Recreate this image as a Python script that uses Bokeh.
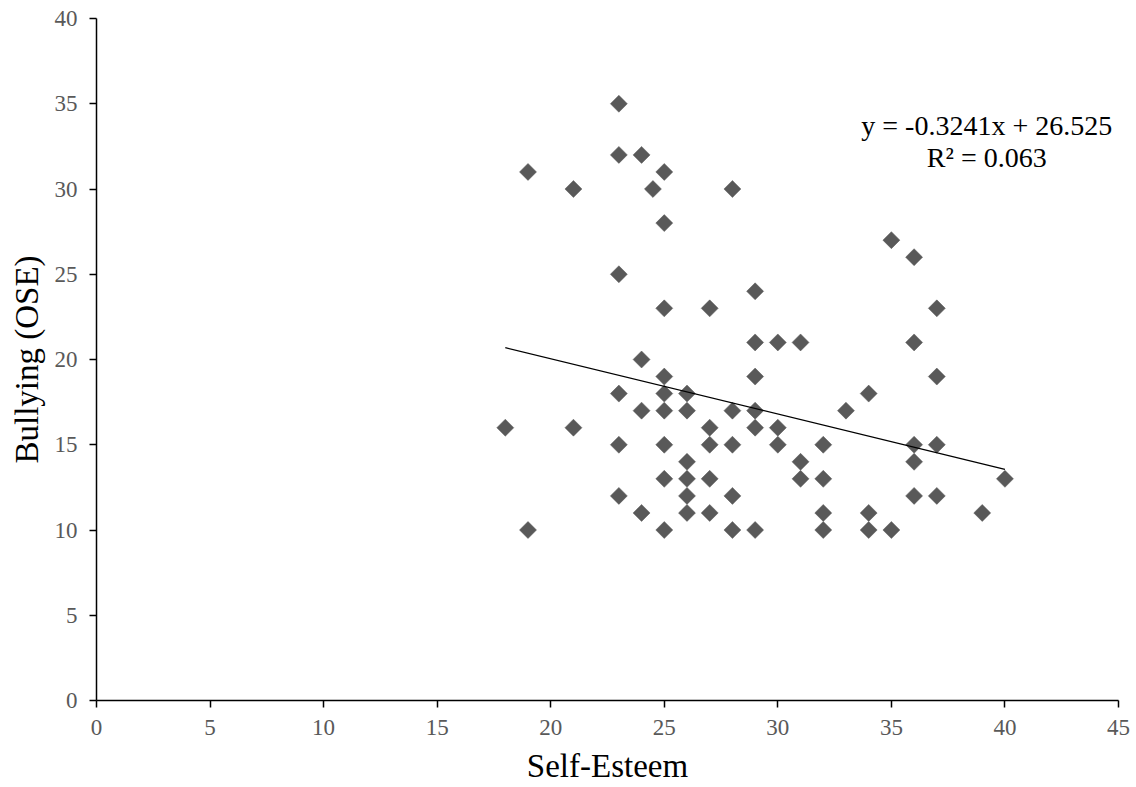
from bokeh.plotting import figure
from bokeh.models import ColumnDataSource, Label, FixedTicker
from bokeh.embed import file_html
from bokeh.resources import INLINE
import numpy as np

# Self-Esteem (x) vs Bullying (OSE) (y)
self_esteem = [18,
               19, 19,
               21, 21,
               23, 23, 23, 23, 23, 23,
               24, 24, 24, 24,
               24.5,
               25, 25, 25, 25, 25, 25, 25, 25, 25,
               26, 26, 26, 26, 26, 26,
               27, 27, 27, 27, 27,
               28, 28, 28, 28, 28,
               29, 29, 29, 29, 29, 29,
               30, 30, 30,
               31, 31, 31,
               32, 32, 32, 32,
               33,
               34, 34, 34,
               35, 35,
               36, 36, 36, 36, 36,
               37, 37, 37, 37,
               39,
               40]
bullying = [16,
            31, 10,
            30, 16,
            35, 32, 25, 18, 15, 12,
            32, 20, 17, 11,
            30,
            31, 28, 23, 19, 18, 17, 15, 13, 10,
            18, 17, 14, 13, 12, 11,
            23, 16, 15, 13, 11,
            30, 17, 15, 12, 10,
            24, 21, 19, 17, 16, 10,
            21, 16, 15,
            21, 14, 13,
            15, 13, 11, 10,
            17,
            18, 11, 10,
            27, 10,
            26, 21, 15, 14, 12,
            23, 19, 15, 12,
            11,
            13]

trend_slope = -0.3241
trend_intercept = 26.525
r_squared = 0.063

x_ticks = [0, 5, 10, 15, 20, 25, 30, 35, 40, 45]
y_ticks = [0, 5, 10, 15, 20, 25, 30, 35, 40]

FONT = "Liberation Serif"
GRAY = "#595959"

p = figure(width=1136, height=787, x_range=(0, 45), y_range=(0, 40),
           output_backend="svg", toolbar_location=None,
           min_border_left=96, min_border_right=18, min_border_top=18,
           min_border_bottom=87)
p.outline_line_color = None
p.xgrid.visible = False
p.ygrid.visible = False
p.background_fill_color = "white"
p.border_fill_color = "white"

src = ColumnDataSource(dict(x=self_esteem, y=bullying))
p.scatter("x", "y", source=src, marker="square", angle=np.pi / 4, size=12,
          fill_color=GRAY, line_color=GRAY, line_width=0.5)

tx = np.array([min(self_esteem), max(self_esteem)], dtype=float)
p.line(tx, trend_slope * tx + trend_intercept, line_color="black", line_width=1.3)

for ax, ticks in ((p.xaxis, x_ticks), (p.yaxis, y_ticks)):
    ax.ticker = FixedTicker(ticks=ticks)
    ax.axis_line_color = "black"
    ax.axis_line_width = 1.5
    ax.major_tick_line_color = "black"
    ax.major_tick_line_width = 1.5
    ax.major_tick_in = 0
    ax.major_tick_out = 7
    ax.minor_tick_line_color = None
    ax.major_label_text_font = FONT
    ax.major_label_text_font_size = "23px"
    ax.major_label_text_color = GRAY
    ax.axis_label_text_font = FONT
    ax.axis_label_text_font_style = "normal"
    ax.axis_label_text_color = "black"
    ax.axis_label_text_font_size = "33px"

p.xaxis.axis_label = "Self-Esteem"
p.yaxis.axis_label = "Bullying (OSE)"
p.xaxis.major_label_standoff = 12
p.xaxis.axis_label_standoff = 10
p.yaxis.major_label_standoff = 12
p.yaxis.axis_label_standoff = 7

eq_text = f"y = {trend_slope}x + {trend_intercept}"
r2_text = f"R² = {r_squared}"
p.add_layout(Label(x=39.2, y=33.75, text=eq_text, text_font=FONT,
                   text_font_size="28px", text_align="center",
                   text_baseline="middle", text_color="black"))
p.add_layout(Label(x=39.2, y=31.85, text=r2_text, text_font=FONT,
                   text_font_size="28px", text_align="center",
                   text_baseline="middle", text_color="black"))

open("out.html", "w").write(file_html(p, INLINE))
